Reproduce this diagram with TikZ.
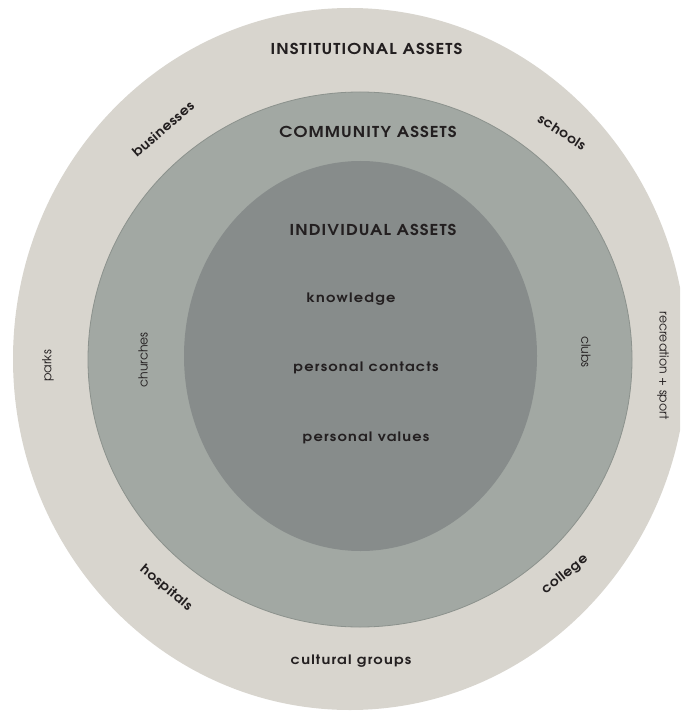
\documentclass[tikz,border=0pt]{standalone}
\usepackage{fontspec}
\setmainfont{texgyreadventor}[Extension=.otf, UprightFont=*-regular, BoldFont=*-bold, ItalicFont=*-italic, BoldItalicFont=*-bolditalic]
\newfontfamily\headfont{texgyreadventor}[Extension=.otf, UprightFont=*-bold, FakeStretch=1.12, LetterSpace=7]
\newfontfamily\itemfont{texgyreadventor}[Extension=.otf, UprightFont=*-bold, FakeStretch=1.12, LetterSpace=9.5]
\newfontfamily\ringbfont{texgyreadventor}[Extension=.otf, UprightFont=*-bold, FakeStretch=1.08, LetterSpace=4]
\definecolor{outerc}{HTML}{D8D5CE}
\definecolor{midc}{HTML}{A2A8A3}
\definecolor{midstroke}{HTML}{8C928D}
\definecolor{innerc}{HTML}{878C8B}
\definecolor{txt}{HTML}{231F20}
\tikzset{
  head/.style={text=txt, font=\headfont\fontsize{15}{17}\selectfont, inner sep=0pt},
  item/.style={text=txt, font=\itemfont\fontsize{13}{15}\selectfont, inner sep=0pt},
  ringb/.style={text=txt, font=\ringbfont\fontsize{13}{15}\selectfont, inner sep=0pt},
  ring/.style={text=txt, font=\fontsize{12.5}{14}\selectfont, inner sep=0pt},
}
\begin{document}
\begin{tikzpicture}[x=1pt,y=-1pt]
\useasboundingbox (0,0) rectangle (680,711);
\clip (0,0) rectangle (680,711);
\fill[outerc] (350,359) ellipse [x radius=337, y radius=351];
\filldraw[fill=midc, draw=midstroke, line width=0.8pt] (360,359.5) ellipse [x radius=272, y radius=267.5];
\fill[innerc] (360.5,356) ellipse [x radius=176.5, y radius=195];

\node[head] (inst) at (366.5,49) {INSTITUTIONAL ASSETS};
\node[head] (comm) at (368,132) {COMMUNITY ASSETS};
\node[head] (indiv) at (373,230) {INDIVIDUAL ASSETS};

\node[item] (know) at (351,299) {knowledge};
\node[item] (cont) at (366,368) {personal contacts};
\node[item] (vals) at (366,438) {personal values};

\node[ring, rotate=90] (church) at (143,360) {churches};
\node[ring, rotate=90] (parks) at (48,366) {parks};
\node[ring, rotate=-90] (clubs) at (586,352) {clubs};
\node[ring, rotate=-90] (rec) at (663,366) {recreation + sport};

\node[ringb, rotate=41] (bus) at (163,129) {businesses};
\node[ringb, rotate=-33] (sch) at (562,132) {schools};
\node[ringb, rotate=-40] (hosp) at (166,588) {hospitals};
\node[ringb, rotate=39] (coll) at (565,575) {college};
\node[item] (cult) at (351,661) {cultural groups};
\end{tikzpicture}
\end{document}
